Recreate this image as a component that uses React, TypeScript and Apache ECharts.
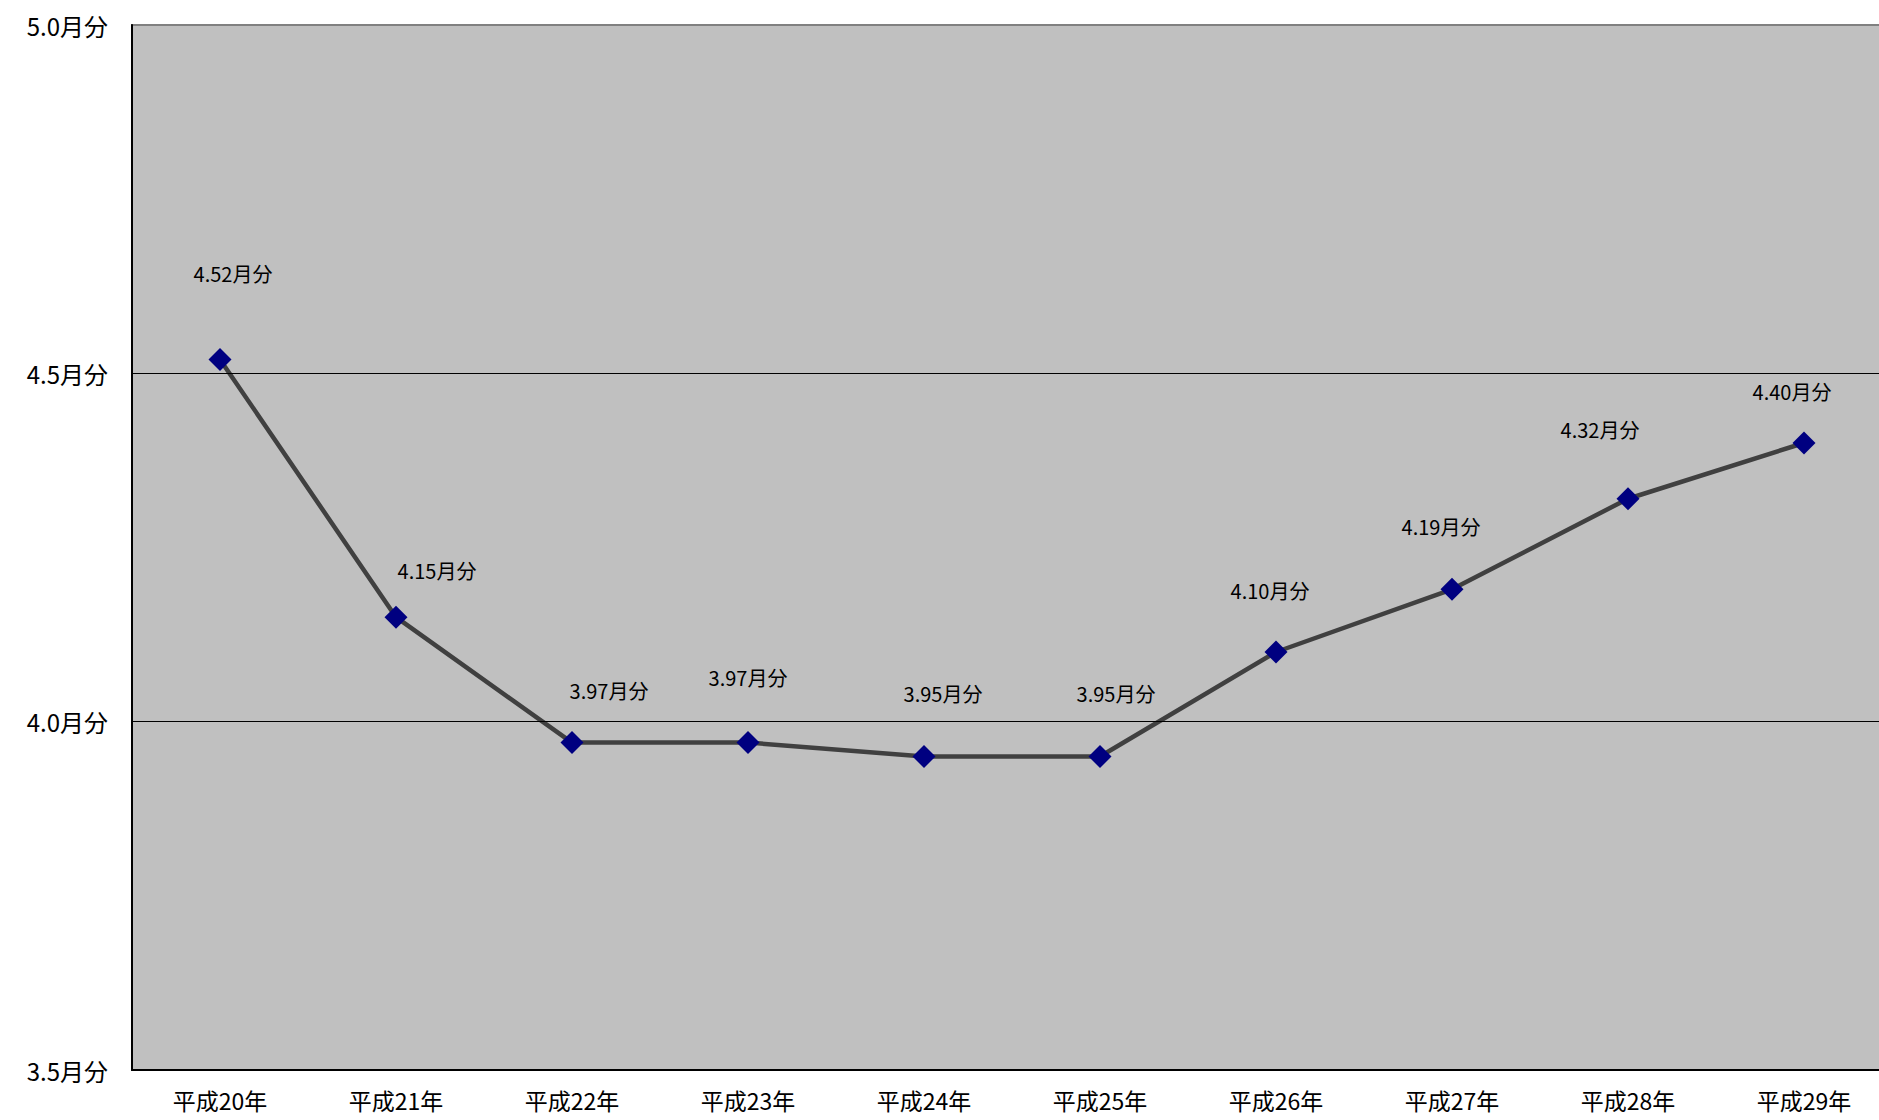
import React, { useEffect, useRef } from "react";
import * as echarts from "echarts";

const categories = ["平成20年", "平成21年", "平成22年", "平成23年", "平成24年", "平成25年", "平成26年", "平成27年", "平成28年", "平成29年"];
const values = [4.52, 4.15, 3.97, 3.97, 3.95, 3.95, 4.1, 4.19, 4.32, 4.4];
const yTicks = [3.5, 4.0, 4.5, 5.0];
// label placement offsets (px) relative to each point
const labelOffsets = [
  [13, -86], [41, -47], [37, -52], [0, -65], [19, -63],
  [16, -63], [-6, -62], [-11, -63], [-28, -69], [-12, -52],
];

const FONT = "'Noto Sans CJK JP', 'Noto Sans', sans-serif";

export default function App() {
  const ref = useRef<HTMLDivElement>(null);
  useEffect(() => {
    if (!ref.current) return;
    const chart = echarts.init(ref.current, null, { renderer: "svg" });
    chart.setOption({
      animation: false,
      grid: {
        left: 132,
        top: 25,
        bottom: 50,
        right: 0,
        show: true,
        backgroundColor: "#c0c0c0",
        borderColor: "#808080",
        borderWidth: 2,
      },
      xAxis: {
        type: "category",
        data: categories,
        boundaryGap: true,
        axisLine: { lineStyle: { color: "#000", width: 2 } },
        axisTick: { inside: true, length: 7, lineStyle: { color: "#000", width: 1 } },
        axisLabel: { color: "#000", fontSize: 23, fontFamily: FONT, margin: 18 },
      },
      yAxis: {
        type: "value",
        min: yTicks[0],
        max: yTicks[yTicks.length - 1],
        interval: 0.5,
        axisLine: { show: true, lineStyle: { color: "#000", width: 2 } },
        axisTick: { show: false },
        splitLine: { show: false },
        axisLabel: {
          color: "#000",
          fontSize: 24,
          fontFamily: FONT,
          margin: 24,
          formatter: (v: number) => v.toFixed(1) + "月分",
        },
      },
      series: [
        {
          type: "line",
          data: values.map((v, i) => ({
            value: v,
            label: { offset: labelOffsets[i] },
          })),
          symbol: "diamond",
          symbolSize: 23,
          itemStyle: { color: "#000080" },
          lineStyle: { color: "#404040", width: 4.5 },
          label: {
            show: true,
            position: "inside",
            color: "#000",
            fontSize: 20,
            fontFamily: FONT,
            formatter: (p: any) => Number(p.value).toFixed(2) + "月分",
          },
          markLine: {
            silent: true,
            symbol: "none",
            label: { show: false },
            lineStyle: { color: "#000", width: 1, type: "solid" },
            data: yTicks.slice(1, -1).map((t) => ({ yAxis: t })),
          },
          z: 3,
        },
      ],
    });
    return () => chart.dispose();
  }, []);
  return (
    <div
      style={{ position: "absolute", left: 0, top: 0, width: 1879, height: 1120, overflow: "hidden" }}
    >
      <div ref={ref} style={{ width: 1892, height: 1120 }} />
    </div>
  );
}
